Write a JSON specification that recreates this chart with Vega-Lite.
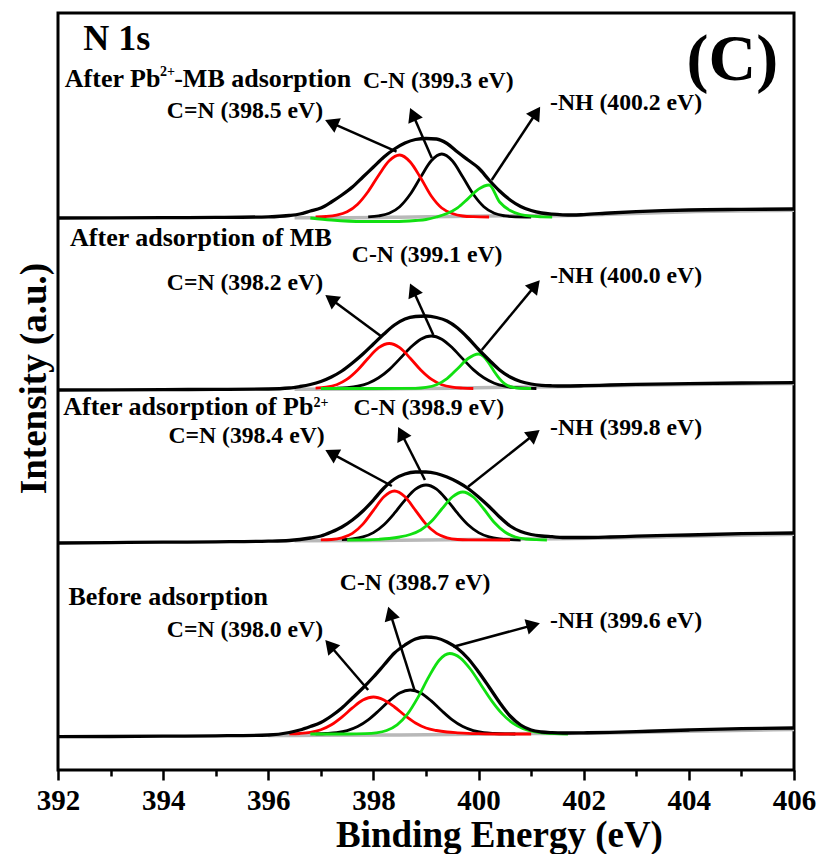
{
"$schema":"https://vega.github.io/schema/vega-lite/v6.json",
"width":736,"height":757,
"autosize":{"type":"none"},
"padding":{"left":58,"top":13,"right":28,"bottom":84},
"background":"white",
"config":{"font":"Liberation Serif","view":{"stroke":"black","strokeWidth":3},"axis":{"grid":false,"labelFont":"Liberation Serif","labelFontWeight":"bold","labelFontSize":29,"labelColor":"black","titleFont":"Liberation Serif"},"axisX":{"labelFont":"Liberation Serif","labelFontWeight":"bold"}},
"datasets":{
"curves":[
{"p":1,"s":"e","x":392,"y":552},{"p":1,"s":"e","x":393,"y":552.2},{"p":1,"s":"e","x":394,"y":552.4},{"p":1,"s":"e","x":395,"y":552.6},{"p":1,"s":"e","x":396,"y":553.2},{"p":1,"s":"e","x":396.4,"y":554.5},{"p":1,"s":"e","x":396.6,"y":556},{"p":1,"s":"e","x":396.8,"y":559},{"p":1,"s":"e","x":397,"y":562},{"p":1,"s":"e","x":397.2,"y":568},{"p":1,"s":"e","x":397.4,"y":575},{"p":1,"s":"e","x":397.6,"y":583},{"p":1,"s":"e","x":397.8,"y":593},{"p":1,"s":"e","x":398,"y":603},{"p":1,"s":"e","x":398.2,"y":613},{"p":1,"s":"e","x":398.4,"y":621},{"p":1,"s":"e","x":398.6,"y":627},{"p":1,"s":"e","x":398.8,"y":630.5},{"p":1,"s":"e","x":399,"y":631.5},{"p":1,"s":"e","x":399.2,"y":631},{"p":1,"s":"e","x":399.4,"y":626.5},{"p":1,"s":"e","x":399.6,"y":618},{"p":1,"s":"e","x":399.8,"y":610},{"p":1,"s":"e","x":400,"y":602},{"p":1,"s":"e","x":400.2,"y":590},{"p":1,"s":"e","x":400.4,"y":579},{"p":1,"s":"e","x":400.6,"y":570},{"p":1,"s":"e","x":400.8,"y":563.5},{"p":1,"s":"e","x":401,"y":559.5},{"p":1,"s":"e","x":401.2,"y":557},{"p":1,"s":"e","x":401.4,"y":555.8},{"p":1,"s":"e","x":401.6,"y":555.2},{"p":1,"s":"e","x":401.8,"y":555},{"p":1,"s":"e","x":402,"y":555.4},{"p":1,"s":"e","x":402.5,"y":557},{"p":1,"s":"e","x":403,"y":558.3},{"p":1,"s":"e","x":403.5,"y":559.3},{"p":1,"s":"e","x":404,"y":560},{"p":1,"s":"e","x":405,"y":560.6},{"p":1,"s":"e","x":406,"y":561},
{"p":1,"s":"r","x":396.9,"y":553.1},{"p":1,"s":"r","x":397.1,"y":553.5},{"p":1,"s":"r","x":397.3,"y":554.8},{"p":1,"s":"r","x":397.5,"y":558.2},{"p":1,"s":"r","x":397.7,"y":565.8},{"p":1,"s":"r","x":397.9,"y":578.5},{"p":1,"s":"r","x":398.1,"y":594.8},{"p":1,"s":"r","x":398.3,"y":609.2},{"p":1,"s":"r","x":398.5,"y":615},{"p":1,"s":"r","x":398.7,"y":608},{"p":1,"s":"r","x":398.9,"y":592},{"p":1,"s":"r","x":399.1,"y":574},{"p":1,"s":"r","x":399.3,"y":562},{"p":1,"s":"r","x":399.5,"y":556.5},{"p":1,"s":"r","x":399.7,"y":554},{"p":1,"s":"r","x":399.9,"y":553.3},{"p":1,"s":"r","x":400.2,"y":553},
{"p":1,"s":"k","x":397.9,"y":553.2},{"p":1,"s":"k","x":398.1,"y":554.1},{"p":1,"s":"k","x":398.3,"y":556.7},{"p":1,"s":"k","x":398.5,"y":563.3},{"p":1,"s":"k","x":398.7,"y":575.7},{"p":1,"s":"k","x":398.9,"y":593},{"p":1,"s":"k","x":399.1,"y":609.2},{"p":1,"s":"k","x":399.3,"y":616},{"p":1,"s":"k","x":399.5,"y":609.2},{"p":1,"s":"k","x":399.7,"y":593},{"p":1,"s":"k","x":399.9,"y":575.7},{"p":1,"s":"k","x":400.1,"y":563.3},{"p":1,"s":"k","x":400.3,"y":556.7},{"p":1,"s":"k","x":400.5,"y":554.1},{"p":1,"s":"k","x":400.7,"y":553.2},{"p":1,"s":"k","x":401,"y":553},
{"p":1,"s":"g","x":396.8,"y":552},{"p":1,"s":"g","x":397.2,"y":550},{"p":1,"s":"g","x":397.8,"y":548.5},{"p":1,"s":"g","x":398.4,"y":548.5},{"p":1,"s":"g","x":398.8,"y":549.5},{"p":1,"s":"g","x":399,"y":550.5},{"p":1,"s":"g","x":399.2,"y":553},{"p":1,"s":"g","x":399.4,"y":556.5},{"p":1,"s":"g","x":399.6,"y":562.2},{"p":1,"s":"g","x":399.8,"y":571.4},{"p":1,"s":"g","x":400,"y":580.9},{"p":1,"s":"g","x":400.2,"y":585},{"p":1,"s":"g","x":400.4,"y":568},{"p":1,"s":"g","x":400.6,"y":559.5},{"p":1,"s":"g","x":400.8,"y":555.5},{"p":1,"s":"g","x":401,"y":553.8},{"p":1,"s":"g","x":401.2,"y":553.2},{"p":1,"s":"g","x":401.4,"y":553},
{"p":1,"s":"b","x":396.5,"y":552.3},{"p":1,"s":"b","x":397.5,"y":552.3},{"p":1,"s":"b","x":398.5,"y":552.8},{"p":1,"s":"b","x":399.5,"y":553.6},{"p":1,"s":"b","x":400.5,"y":554.2},{"p":1,"s":"b","x":401.5,"y":554.3},{"p":1,"s":"b","x":402.5,"y":555.8},{"p":1,"s":"b","x":404,"y":558.3},{"p":1,"s":"b","x":406,"y":559.8},
{"p":2,"s":"e","x":392,"y":380},{"p":2,"s":"e","x":393,"y":380.2},{"p":2,"s":"e","x":394,"y":380.4},{"p":2,"s":"e","x":395,"y":380.6},{"p":2,"s":"e","x":396,"y":381},{"p":2,"s":"e","x":396.4,"y":382},{"p":2,"s":"e","x":396.6,"y":383.5},{"p":2,"s":"e","x":396.8,"y":385.5},{"p":2,"s":"e","x":397,"y":388.5},{"p":2,"s":"e","x":397.2,"y":393},{"p":2,"s":"e","x":397.4,"y":399},{"p":2,"s":"e","x":397.6,"y":407},{"p":2,"s":"e","x":397.8,"y":416},{"p":2,"s":"e","x":398,"y":426},{"p":2,"s":"e","x":398.2,"y":436},{"p":2,"s":"e","x":398.4,"y":445},{"p":2,"s":"e","x":398.6,"y":451},{"p":2,"s":"e","x":398.8,"y":453.5},{"p":2,"s":"e","x":399,"y":454},{"p":2,"s":"e","x":399.2,"y":452.5},{"p":2,"s":"e","x":399.4,"y":449},{"p":2,"s":"e","x":399.6,"y":442},{"p":2,"s":"e","x":399.8,"y":432},{"p":2,"s":"e","x":400,"y":420.5},{"p":2,"s":"e","x":400.2,"y":410},{"p":2,"s":"e","x":400.4,"y":400},{"p":2,"s":"e","x":400.6,"y":393},{"p":2,"s":"e","x":400.8,"y":388.5},{"p":2,"s":"e","x":401,"y":386},{"p":2,"s":"e","x":401.2,"y":384.7},{"p":2,"s":"e","x":401.4,"y":384.2},{"p":2,"s":"e","x":401.6,"y":384},{"p":2,"s":"e","x":402,"y":384.3},{"p":2,"s":"e","x":402.5,"y":385},{"p":2,"s":"e","x":403,"y":385.6},{"p":2,"s":"e","x":404,"y":386.4},{"p":2,"s":"e","x":405,"y":387},{"p":2,"s":"e","x":406,"y":387.3},
{"p":2,"s":"r","x":396.9,"y":381.9},{"p":2,"s":"r","x":397.1,"y":382.8},{"p":2,"s":"r","x":397.3,"y":385.3},{"p":2,"s":"r","x":397.5,"y":390.8},{"p":2,"s":"r","x":397.7,"y":400},{"p":2,"s":"r","x":397.9,"y":411.8},{"p":2,"s":"r","x":398.1,"y":422.3},{"p":2,"s":"r","x":398.3,"y":426.5},{"p":2,"s":"r","x":398.5,"y":422.3},{"p":2,"s":"r","x":398.7,"y":411.8},{"p":2,"s":"r","x":398.9,"y":400},{"p":2,"s":"r","x":399.1,"y":390.8},{"p":2,"s":"r","x":399.3,"y":385.3},{"p":2,"s":"r","x":399.5,"y":382.8},{"p":2,"s":"r","x":399.7,"y":381.9},{"p":2,"s":"r","x":399.9,"y":381.5},
{"p":2,"s":"k","x":397.3,"y":381.8},{"p":2,"s":"k","x":397.5,"y":382.4},{"p":2,"s":"k","x":397.7,"y":383.8},{"p":2,"s":"k","x":397.9,"y":386.8},{"p":2,"s":"k","x":398.1,"y":392.2},{"p":2,"s":"k","x":398.3,"y":400.4},{"p":2,"s":"k","x":398.5,"y":411.1},{"p":2,"s":"k","x":398.7,"y":422.2},{"p":2,"s":"k","x":398.9,"y":430.8},{"p":2,"s":"k","x":399.1,"y":434},{"p":2,"s":"k","x":399.3,"y":430.8},{"p":2,"s":"k","x":399.5,"y":422.2},{"p":2,"s":"k","x":399.7,"y":411.1},{"p":2,"s":"k","x":399.9,"y":400.4},{"p":2,"s":"k","x":400.1,"y":392.2},{"p":2,"s":"k","x":400.3,"y":386.8},{"p":2,"s":"k","x":400.5,"y":383.8},{"p":2,"s":"k","x":400.7,"y":382.4},{"p":2,"s":"k","x":400.9,"y":381.8},{"p":2,"s":"k","x":401.1,"y":381.5},
{"p":2,"s":"g","x":397,"y":381.5},{"p":2,"s":"g","x":398,"y":381.5},{"p":2,"s":"g","x":398.6,"y":381.6},{"p":2,"s":"g","x":398.8,"y":381.7},{"p":2,"s":"g","x":399,"y":382.6},{"p":2,"s":"g","x":399.2,"y":385.3},{"p":2,"s":"g","x":399.4,"y":391.4},{"p":2,"s":"g","x":399.6,"y":401.3},{"p":2,"s":"g","x":399.8,"y":411.5},{"p":2,"s":"g","x":400,"y":416},{"p":2,"s":"g","x":400.1,"y":413.3},{"p":2,"s":"g","x":400.2,"y":406.5},{"p":2,"s":"g","x":400.3,"y":398.3},{"p":2,"s":"g","x":400.4,"y":391.1},{"p":2,"s":"g","x":400.5,"y":386.2},{"p":2,"s":"g","x":400.6,"y":383.4},{"p":2,"s":"g","x":400.7,"y":382.2},{"p":2,"s":"g","x":400.8,"y":381.7},{"p":2,"s":"g","x":401,"y":381.5},
{"p":2,"s":"b","x":396.5,"y":380.8},{"p":2,"s":"b","x":398,"y":381},{"p":2,"s":"b","x":399.5,"y":381.8},{"p":2,"s":"b","x":400.5,"y":382.8},{"p":2,"s":"b","x":401.5,"y":383.3},{"p":2,"s":"b","x":402.5,"y":384.2},{"p":2,"s":"b","x":404,"y":385.5},{"p":2,"s":"b","x":406,"y":386.6},
{"p":3,"s":"e","x":392,"y":227},{"p":3,"s":"e","x":393,"y":227.4},{"p":3,"s":"e","x":394,"y":227.8},{"p":3,"s":"e","x":395,"y":228.2},{"p":3,"s":"e","x":396,"y":228.8},{"p":3,"s":"e","x":396.4,"y":229.5},{"p":3,"s":"e","x":396.6,"y":230.5},{"p":3,"s":"e","x":396.8,"y":232},{"p":3,"s":"e","x":397,"y":234},{"p":3,"s":"e","x":397.2,"y":238},{"p":3,"s":"e","x":397.4,"y":243},{"p":3,"s":"e","x":397.6,"y":250},{"p":3,"s":"e","x":397.8,"y":259},{"p":3,"s":"e","x":398,"y":270},{"p":3,"s":"e","x":398.2,"y":282},{"p":3,"s":"e","x":398.4,"y":291},{"p":3,"s":"e","x":398.6,"y":296},{"p":3,"s":"e","x":398.8,"y":298},{"p":3,"s":"e","x":399,"y":298},{"p":3,"s":"e","x":399.2,"y":296.5},{"p":3,"s":"e","x":399.4,"y":293},{"p":3,"s":"e","x":399.6,"y":288},{"p":3,"s":"e","x":399.8,"y":281.5},{"p":3,"s":"e","x":400,"y":273},{"p":3,"s":"e","x":400.2,"y":263.5},{"p":3,"s":"e","x":400.4,"y":253},{"p":3,"s":"e","x":400.6,"y":244},{"p":3,"s":"e","x":400.8,"y":238.5},{"p":3,"s":"e","x":401,"y":235.5},{"p":3,"s":"e","x":401.2,"y":234},{"p":3,"s":"e","x":401.4,"y":233.3},{"p":3,"s":"e","x":401.6,"y":232.5},{"p":3,"s":"e","x":402,"y":232.5},{"p":3,"s":"e","x":402.5,"y":233},{"p":3,"s":"e","x":403,"y":233.8},{"p":3,"s":"e","x":404,"y":235},{"p":3,"s":"e","x":405,"y":236.3},{"p":3,"s":"e","x":406,"y":237},
{"p":3,"s":"r","x":397,"y":230.1},{"p":3,"s":"r","x":397.2,"y":230.5},{"p":3,"s":"r","x":397.4,"y":232.2},{"p":3,"s":"r","x":397.6,"y":236.6},{"p":3,"s":"r","x":397.8,"y":245.9},{"p":3,"s":"r","x":398,"y":259.7},{"p":3,"s":"r","x":398.2,"y":273.2},{"p":3,"s":"r","x":398.4,"y":279},{"p":3,"s":"r","x":398.6,"y":273.2},{"p":3,"s":"r","x":398.8,"y":259.7},{"p":3,"s":"r","x":399,"y":245.9},{"p":3,"s":"r","x":399.2,"y":236.6},{"p":3,"s":"r","x":399.4,"y":232.2},{"p":3,"s":"r","x":399.6,"y":230.5},{"p":3,"s":"r","x":399.8,"y":230.1},{"p":3,"s":"r","x":400.6,"y":230},
{"p":3,"s":"k","x":397.4,"y":230.3},{"p":3,"s":"k","x":397.6,"y":231.1},{"p":3,"s":"k","x":397.8,"y":233.1},{"p":3,"s":"k","x":398,"y":237.4},{"p":3,"s":"k","x":398.2,"y":245.3},{"p":3,"s":"k","x":398.4,"y":256.8},{"p":3,"s":"k","x":398.6,"y":269.9},{"p":3,"s":"k","x":398.8,"y":280.8},{"p":3,"s":"k","x":399,"y":285},{"p":3,"s":"k","x":399.2,"y":280.8},{"p":3,"s":"k","x":399.4,"y":269.9},{"p":3,"s":"k","x":399.6,"y":256.8},{"p":3,"s":"k","x":399.8,"y":245.3},{"p":3,"s":"k","x":400,"y":237.4},{"p":3,"s":"k","x":400.2,"y":233.1},{"p":3,"s":"k","x":400.4,"y":231.1},{"p":3,"s":"k","x":400.6,"y":230.3},{"p":3,"s":"k","x":400.8,"y":230},
{"p":3,"s":"g","x":397.5,"y":230},{"p":3,"s":"g","x":397.9,"y":230.2},{"p":3,"s":"g","x":398.1,"y":230.7},{"p":3,"s":"g","x":398.3,"y":231.5},{"p":3,"s":"g","x":398.5,"y":233},{"p":3,"s":"g","x":398.7,"y":235.5},{"p":3,"s":"g","x":398.9,"y":240},{"p":3,"s":"g","x":399.1,"y":248.5},{"p":3,"s":"g","x":399.3,"y":261},{"p":3,"s":"g","x":399.5,"y":273},{"p":3,"s":"g","x":399.7,"y":278},{"p":3,"s":"g","x":399.9,"y":273},{"p":3,"s":"g","x":400.1,"y":261},{"p":3,"s":"g","x":400.3,"y":247.5},{"p":3,"s":"g","x":400.5,"y":238},{"p":3,"s":"g","x":400.7,"y":233},{"p":3,"s":"g","x":400.9,"y":231},{"p":3,"s":"g","x":401.1,"y":230.3},{"p":3,"s":"g","x":401.3,"y":230},
{"p":3,"s":"b","x":396.5,"y":229.3},{"p":3,"s":"b","x":398,"y":229.6},{"p":3,"s":"b","x":399.5,"y":230.2},{"p":3,"s":"b","x":400.5,"y":230.8},{"p":3,"s":"b","x":401.5,"y":231.3},{"p":3,"s":"b","x":402.5,"y":232},{"p":3,"s":"b","x":404,"y":233.8},{"p":3,"s":"b","x":406,"y":235.8},
{"p":4,"s":"e","x":392,"y":33.3},{"p":4,"s":"e","x":393,"y":33.5},{"p":4,"s":"e","x":394,"y":33.8},{"p":4,"s":"e","x":395,"y":34.2},{"p":4,"s":"e","x":396,"y":35},{"p":4,"s":"e","x":396.4,"y":37.5},{"p":4,"s":"e","x":396.6,"y":40},{"p":4,"s":"e","x":396.8,"y":43.5},{"p":4,"s":"e","x":397,"y":47.5},{"p":4,"s":"e","x":397.2,"y":54},{"p":4,"s":"e","x":397.4,"y":62},{"p":4,"s":"e","x":397.6,"y":72},{"p":4,"s":"e","x":397.8,"y":82},{"p":4,"s":"e","x":398,"y":93},{"p":4,"s":"e","x":398.2,"y":105},{"p":4,"s":"e","x":398.4,"y":117},{"p":4,"s":"e","x":398.6,"y":125},{"p":4,"s":"e","x":398.8,"y":131},{"p":4,"s":"e","x":399,"y":133},{"p":4,"s":"e","x":399.2,"y":132},{"p":4,"s":"e","x":399.4,"y":128},{"p":4,"s":"e","x":399.6,"y":121.5},{"p":4,"s":"e","x":399.8,"y":111.5},{"p":4,"s":"e","x":400,"y":98},{"p":4,"s":"e","x":400.2,"y":83},{"p":4,"s":"e","x":400.4,"y":67.5},{"p":4,"s":"e","x":400.6,"y":54},{"p":4,"s":"e","x":400.8,"y":45},{"p":4,"s":"e","x":401,"y":40},{"p":4,"s":"e","x":401.2,"y":38},{"p":4,"s":"e","x":401.4,"y":37.3},{"p":4,"s":"e","x":401.6,"y":37},{"p":4,"s":"e","x":402,"y":37.2},{"p":4,"s":"e","x":402.5,"y":37.6},{"p":4,"s":"e","x":403,"y":38.4},{"p":4,"s":"e","x":404,"y":40},{"p":4,"s":"e","x":405,"y":41.3},{"p":4,"s":"e","x":406,"y":42},
{"p":4,"s":"r","x":396.4,"y":36.1},{"p":4,"s":"r","x":396.6,"y":36.5},{"p":4,"s":"r","x":396.8,"y":37.6},{"p":4,"s":"r","x":397,"y":40.2},{"p":4,"s":"r","x":397.2,"y":45.2},{"p":4,"s":"r","x":397.4,"y":52.9},{"p":4,"s":"r","x":397.6,"y":62.1},{"p":4,"s":"r","x":397.8,"y":69.9},{"p":4,"s":"r","x":398,"y":73},{"p":4,"s":"r","x":398.2,"y":70},{"p":4,"s":"r","x":398.4,"y":63},{"p":4,"s":"r","x":398.6,"y":54.5},{"p":4,"s":"r","x":398.8,"y":47},{"p":4,"s":"r","x":399,"y":42},{"p":4,"s":"r","x":399.2,"y":39.5},{"p":4,"s":"r","x":399.4,"y":38},{"p":4,"s":"r","x":399.6,"y":37.2},{"p":4,"s":"r","x":399.8,"y":36.6},{"p":4,"s":"r","x":400,"y":36.3},{"p":4,"s":"r","x":400.4,"y":36},{"p":4,"s":"r","x":401,"y":36},
{"p":4,"s":"k","x":396.9,"y":36.1},{"p":4,"s":"k","x":397.1,"y":36.5},{"p":4,"s":"k","x":397.3,"y":37.3},{"p":4,"s":"k","x":397.5,"y":39.4},{"p":4,"s":"k","x":397.7,"y":43.4},{"p":4,"s":"k","x":397.9,"y":50.1},{"p":4,"s":"k","x":398.1,"y":59.2},{"p":4,"s":"k","x":398.3,"y":69.1},{"p":4,"s":"k","x":398.5,"y":77},{"p":4,"s":"k","x":398.7,"y":80},{"p":4,"s":"k","x":398.9,"y":77},{"p":4,"s":"k","x":399.1,"y":69.1},{"p":4,"s":"k","x":399.3,"y":59.2},{"p":4,"s":"k","x":399.5,"y":50.1},{"p":4,"s":"k","x":399.7,"y":43.4},{"p":4,"s":"k","x":399.9,"y":39.4},{"p":4,"s":"k","x":400.1,"y":37.3},{"p":4,"s":"k","x":400.3,"y":36.5},{"p":4,"s":"k","x":400.5,"y":36.1},{"p":4,"s":"k","x":400.7,"y":36},
{"p":4,"s":"g","x":396.8,"y":36},{"p":4,"s":"g","x":397.5,"y":36},{"p":4,"s":"g","x":397.85,"y":36.3},{"p":4,"s":"g","x":398.05,"y":37.1},{"p":4,"s":"g","x":398.25,"y":39.5},{"p":4,"s":"g","x":398.45,"y":45.2},{"p":4,"s":"g","x":398.65,"y":56.1},{"p":4,"s":"g","x":398.85,"y":72.9},{"p":4,"s":"g","x":399.05,"y":92.9},{"p":4,"s":"g","x":399.25,"y":109.8},{"p":4,"s":"g","x":399.45,"y":116.5},{"p":4,"s":"g","x":399.65,"y":112.2},{"p":4,"s":"g","x":399.85,"y":100.5},{"p":4,"s":"g","x":400.05,"y":84.8},{"p":4,"s":"g","x":400.25,"y":69.1},{"p":4,"s":"g","x":400.45,"y":56.1},{"p":4,"s":"g","x":400.65,"y":46.9},{"p":4,"s":"g","x":400.85,"y":41.3},{"p":4,"s":"g","x":401.05,"y":38.3},{"p":4,"s":"g","x":401.25,"y":36.9},{"p":4,"s":"g","x":401.45,"y":36.3},{"p":4,"s":"g","x":401.7,"y":36},
{"p":4,"s":"b","x":396,"y":34.5},{"p":4,"s":"b","x":397,"y":34.7},{"p":4,"s":"b","x":398.5,"y":35},{"p":4,"s":"b","x":399.5,"y":35.5},{"p":4,"s":"b","x":400.5,"y":36.2},{"p":4,"s":"b","x":401.5,"y":36.5},{"p":4,"s":"b","x":402.5,"y":37},{"p":4,"s":"b","x":404,"y":38.8},{"p":4,"s":"b","x":406,"y":40.5}
],
"arrows":[
{"x":397.2,"y":647.2,"x2":398.44,"y2":618.3,"angle":-66},
{"x":398.75,"y":655.6,"x2":399.11,"y2":612,"angle":-23.5},
{"x":401.1,"y":657.5,"x2":400.25,"y2":590,"angle":33.4},
{"x":397.19,"y":470.9,"x2":398.16,"y2":433.3,"angle":-53.7},
{"x":398.75,"y":480.3,"x2":399.14,"y2":435,"angle":-24.3},
{"x":401.08,"y":484.6,"x2":400.06,"y2":420,"angle":39.8},
{"x":397.2,"y":316.7,"x2":398.35,"y2":284,"angle":-61.6},
{"x":398.53,"y":336.8,"x2":398.98,"y2":290,"angle":-27},
{"x":401.06,"y":335.7,"x2":399.8,"y2":283.3,"angle":51.7},
{"x":397.17,"y":124.7,"x2":397.9,"y2":80,"angle":-40.7},
{"x":398.32,"y":156.6,"x2":398.79,"y2":78.3,"angle":-17.4},
{"x":401.04,"y":144.9,"x2":399.52,"y2":123.3,"angle":74.9}
],
"labels":[
{"k":"n","x":392.48,"y":720,"t":"N 1s"},
{"k":"c","x":405.7,"y":690,"t":"(C)"},
{"k":"h","x":392.13,"y":683,"t":"After Pb"},
{"k":"s","x":393.94,"y":694,"t":"2+"},
{"k":"h","x":394.21,"y":683,"t":"-MB adsorption"},
{"k":"p","x":397.8,"y":682,"t":"C-N (399.3 eV)"},
{"k":"p","x":394.07,"y":652,"t":"C=N (398.5 eV)"},
{"k":"p","x":401.36,"y":660,"t":"-NH (400.2 eV)"},
{"k":"h","x":392.23,"y":524,"t":"After adsorption of MB"},
{"k":"p","x":397.59,"y":508.3,"t":"C-N (399.1 eV)"},
{"k":"p","x":394.07,"y":480,"t":"C=N (398.2 eV)"},
{"k":"p","x":401.36,"y":486.7,"t":"-NH (400.0 eV)"},
{"k":"h","x":392.1,"y":355,"t":"After adsorption of Pb"},
{"k":"s","x":396.86,"y":363.3,"t":"2+"},
{"k":"p","x":397.62,"y":355,"t":"C-N (398.9 eV)"},
{"k":"p","x":394.1,"y":326.7,"t":"C=N (398.4 eV)"},
{"k":"p","x":401.36,"y":335,"t":"-NH (399.8 eV)"},
{"k":"h","x":392.2,"y":165,"t":"Before adsorption"},
{"k":"p","x":397.36,"y":180,"t":"C-N (398.7 eV)"},
{"k":"p","x":394.07,"y":133.3,"t":"C=N (398.0 eV)"},
{"k":"p","x":401.36,"y":141.7,"t":"-NH (399.6 eV)"}
]
},
"encoding":{
"x":{"field":"x","type":"quantitative","scale":{"domain":[392,406],"nice":false,"zero":false},
 "axis":{"title":"Binding Energy (eV)","values":[392,393,394,395,396,397,398,399,400,401,402,403,404,405,406],
 "labelExpr":"datum.value % 2 === 0 ? datum.label : ''",
 "tickSize":{"condition":{"test":"datum.value % 2 === 0","value":10},"value":6},
 "tickWidth":2.5,"tickColor":"black","domain":false,"grid":false,
 "labelFont":"Liberation Serif","labelFontSize":29,"labelFontWeight":"bold","labelColor":"black","labelPadding":6,"labelOverlap":false,"labelFlush":false,
 "titleFont":"Liberation Serif","titleFontSize":37,"titleFontWeight":"bold","titleColor":"black","titleX":441,"titleY":76,"titleAlign":"center","titleBaseline":"alphabetic"}},
"y":{"field":"y","type":"quantitative","scale":{"domain":[0,757],"nice":false,"zero":false},
 "axis":{"title":"Intensity (a.u.)","labels":false,"ticks":false,"domain":false,"grid":false,
 "titleFont":"Liberation Serif","titleFontSize":37,"titleFontWeight":"bold","titleColor":"black","titleX":-13,"titleY":365,"titleAngle":-90,"titleAlign":"center","titleBaseline":"alphabetic"}}
},
"layer":[
{"data":{"name":"curves"},"transform":[{"filter":"datum.s === 'b'"}],"mark":{"type":"line","interpolate":"monotone","strokeWidth":3.5,"color":"#b8b8b8"},"encoding":{"detail":{"field":"p"}}},
{"data":{"name":"curves"},"transform":[{"filter":"datum.s === 'k'"}],"mark":{"type":"line","interpolate":"monotone","strokeWidth":2.8,"color":"black"},"encoding":{"detail":{"field":"p"}}},
{"data":{"name":"curves"},"transform":[{"filter":"datum.s === 'r'"}],"mark":{"type":"line","interpolate":"monotone","strokeWidth":2.8,"color":"#ff0000"},"encoding":{"detail":{"field":"p"}}},
{"data":{"name":"curves"},"transform":[{"filter":"datum.s === 'g'"}],"mark":{"type":"line","interpolate":"monotone","strokeWidth":2.8,"color":"#11e011"},"encoding":{"detail":{"field":"p"}}},
{"data":{"name":"curves"},"transform":[{"filter":"datum.s === 'e'"}],"mark":{"type":"line","interpolate":"monotone","strokeWidth":3.3,"color":"black"},"encoding":{"detail":{"field":"p"}}},
{"data":{"name":"arrows"},"mark":{"type":"rule","strokeWidth":2.5,"color":"black"},"encoding":{"x2":{"field":"x2"},"y2":{"field":"y2"}}},
{"data":{"name":"arrows"},"mark":{"type":"point","shape":"triangle-up","filled":true,"size":250,"color":"black","opacity":1},"encoding":{"angle":{"field":"angle","type":"quantitative","scale":null}}},
{"data":{"name":"labels"},"transform":[{"filter":"datum.k === 'p'"}],"mark":{"type":"text","align":"left","baseline":"alphabetic","font":"Liberation Serif","fontWeight":"bold","fontSize":23.7,"color":"black"},"encoding":{"text":{"field":"t"}}},
{"data":{"name":"labels"},"transform":[{"filter":"datum.k === 'h'"}],"mark":{"type":"text","align":"left","baseline":"alphabetic","font":"Liberation Serif","fontWeight":"bold","fontSize":26,"color":"black"},"encoding":{"text":{"field":"t"}}},
{"data":{"name":"labels"},"transform":[{"filter":"datum.k === 's'"}],"mark":{"type":"text","align":"left","baseline":"alphabetic","font":"Liberation Serif","fontWeight":"bold","fontSize":14,"color":"black"},"encoding":{"text":{"field":"t"}}},
{"data":{"name":"labels"},"transform":[{"filter":"datum.k === 'n'"}],"mark":{"type":"text","align":"left","baseline":"alphabetic","font":"Liberation Serif","fontWeight":"bold","fontSize":36,"color":"black"},"encoding":{"text":{"field":"t"}}},
{"data":{"name":"labels"},"transform":[{"filter":"datum.k === 'c'"}],"mark":{"type":"text","align":"right","baseline":"alphabetic","font":"Liberation Serif","fontWeight":"bold","fontSize":66,"color":"black"},"encoding":{"text":{"field":"t"}}}
]
}
